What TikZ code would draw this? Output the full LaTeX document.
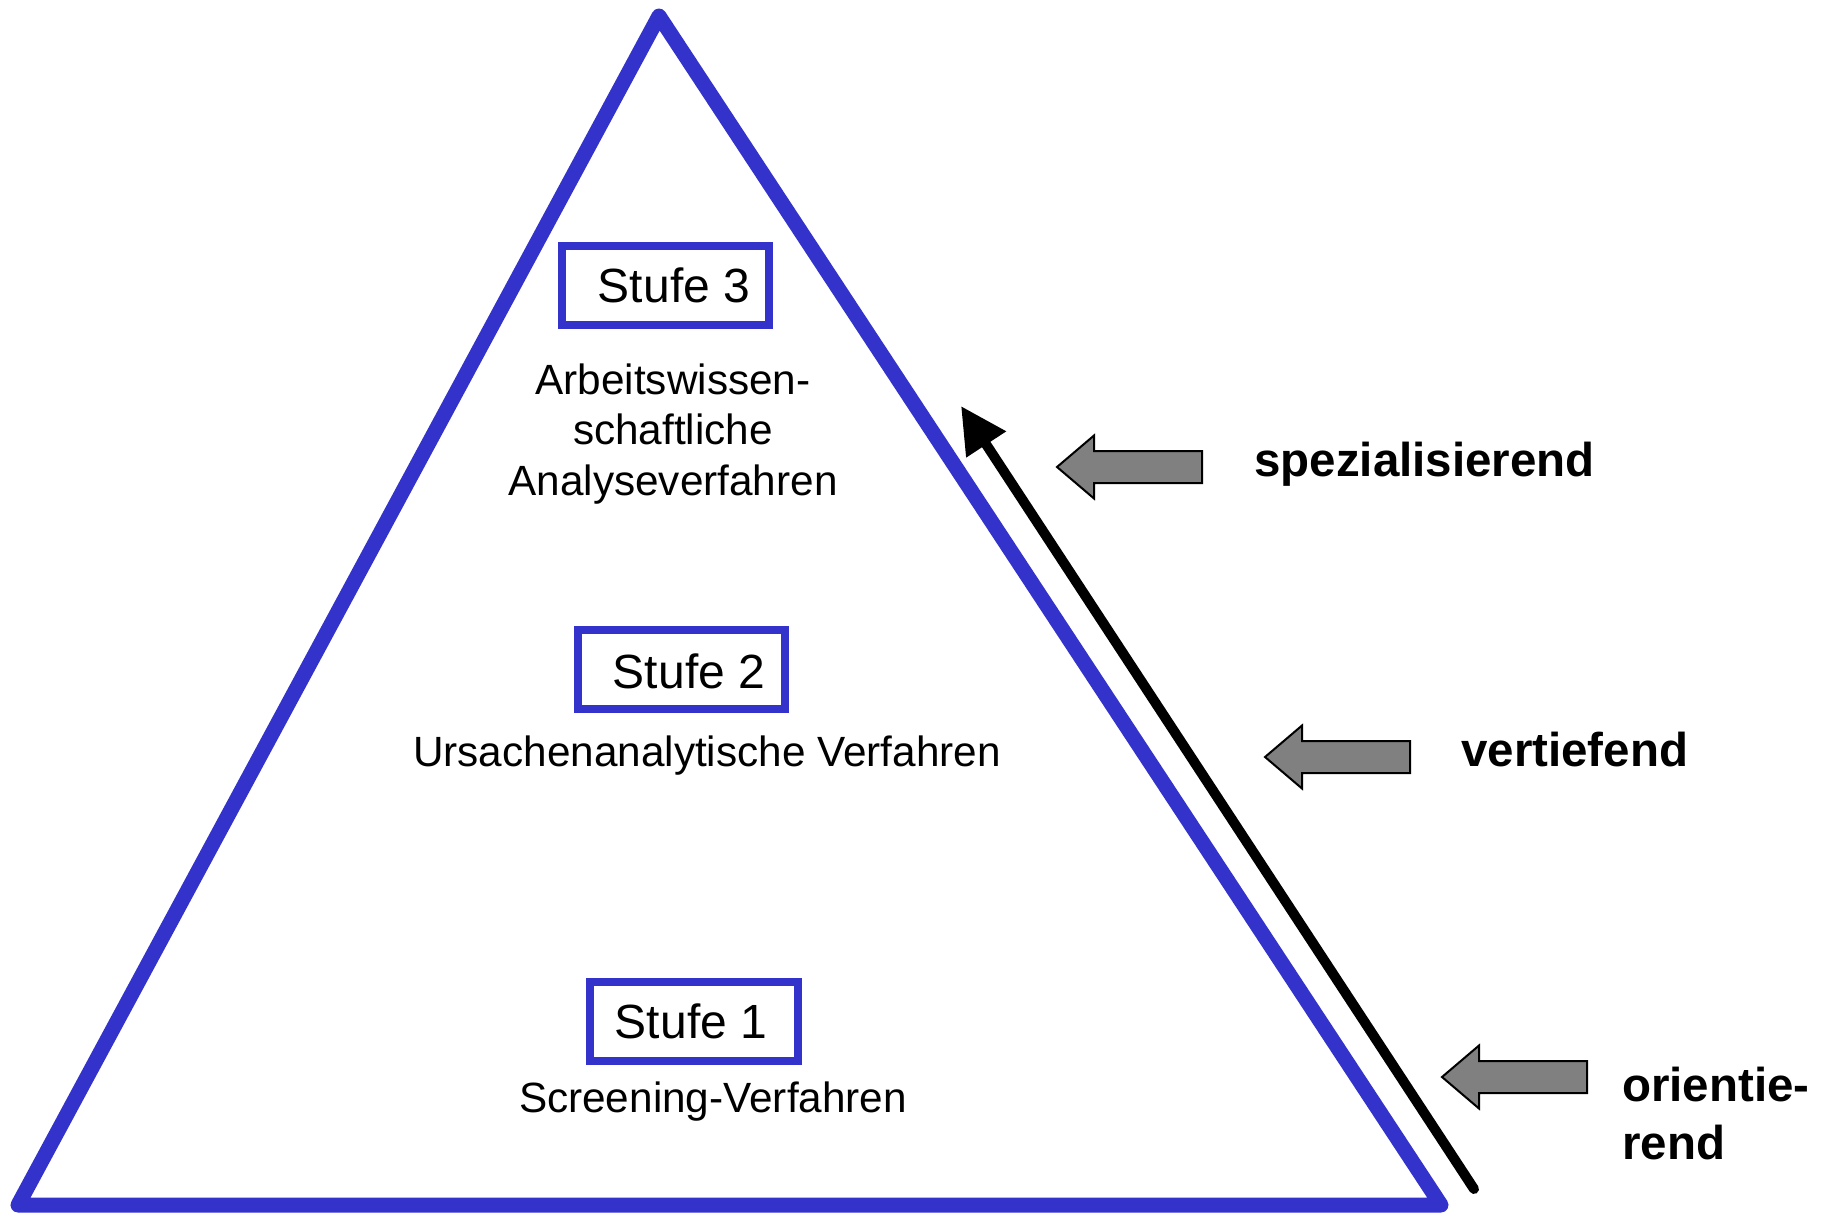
\documentclass[tikz,border=0pt]{standalone}
\usepackage{fontspec}
\setmainfont{Liberation Sans}
\usetikzlibrary{arrows.meta}
\definecolor{pyrblue}{RGB}{51,51,204}
\definecolor{arrgray}{RGB}{128,128,128}
\begin{document}
\begin{tikzpicture}[x=1pt,y=-1pt,
 side/.style={draw=pyrblue,line width=15pt,line join=round,line cap=round},
 stufebox/.style={draw=pyrblue,line width=8pt,minimum width=207pt,minimum height=79pt,inner sep=0pt},
 stufetext/.style={anchor=base,inner sep=0pt,font=\fontsize{48}{58}\selectfont},
 desc/.style={anchor=base,inner sep=0pt,font=\fontsize{42.3}{50.5}\selectfont},
 lvl/.style={anchor=base west,inner sep=0pt,align=left,font=\fontsize{47.5}{58}\selectfont\bfseries},
 grayarrow/.style={fill=arrgray,draw=black,line width=2pt,line join=miter},
 pics/grayarr/.style={code={\draw[grayarrow] (0,0) -- (37,-31.5) -- (37,-16) -- (145,-16) -- (145,16) -- (37,16) -- (37,31.5) -- cycle;}}
]
\useasboundingbox (0,0) rectangle (1823,1219);
% pyramid
\coordinate (apex) at (659,16);
\coordinate (bl) at (18,1205);
\coordinate (br) at (1441,1205);
\draw[side] (apex) -- (br) -- (bl) -- cycle;
% stage boxes
\node[stufebox] (box3) at (665.5,285.5) {};
\node[stufebox] (box2) at (681.5,669.5) {};
\node[stufebox,minimum width=208pt] (box1) at (694,1021.5) {};
\node[stufetext] (t3) at (674,302) {Stufe 3};
\node[stufetext] (t2) at (689,688) {Stufe 2};
\node[stufetext] (t1) at (691,1038) {Stufe 1};
% descriptions (base anchor = baseline of last line)
\node[desc,align=center] (d3) at (673,495) {Arbeitswissen-\\schaftliche\\Analyseverfahren};
\node[desc] (d2) at (707,766) {Ursachenanalytische Verfahren};
\node[desc] (d1) at (713,1112) {Screening-Verfahren};
% black arrow
\coordinate (bstart) at (1474,1189);
\coordinate (btip) at (961,406);
\draw[line width=10pt,line cap=round,-{Triangle[length=46pt,width=45pt]}] (bstart) -- (btip);
% gray arrows
\pic (a1) at (1057,467) {grayarr};
\pic (a2) at (1265,757) {grayarr};
\pic (a3) at (1442,1077) {grayarr};
% labels
\node[lvl] (l1) at (1254,476) {spezialisierend};
\node[lvl] (l2) at (1461,766) {vertiefend};
\node[lvl] (l3) at (1622,1159) {orientie-\\rend};
\end{tikzpicture}
\end{document}
